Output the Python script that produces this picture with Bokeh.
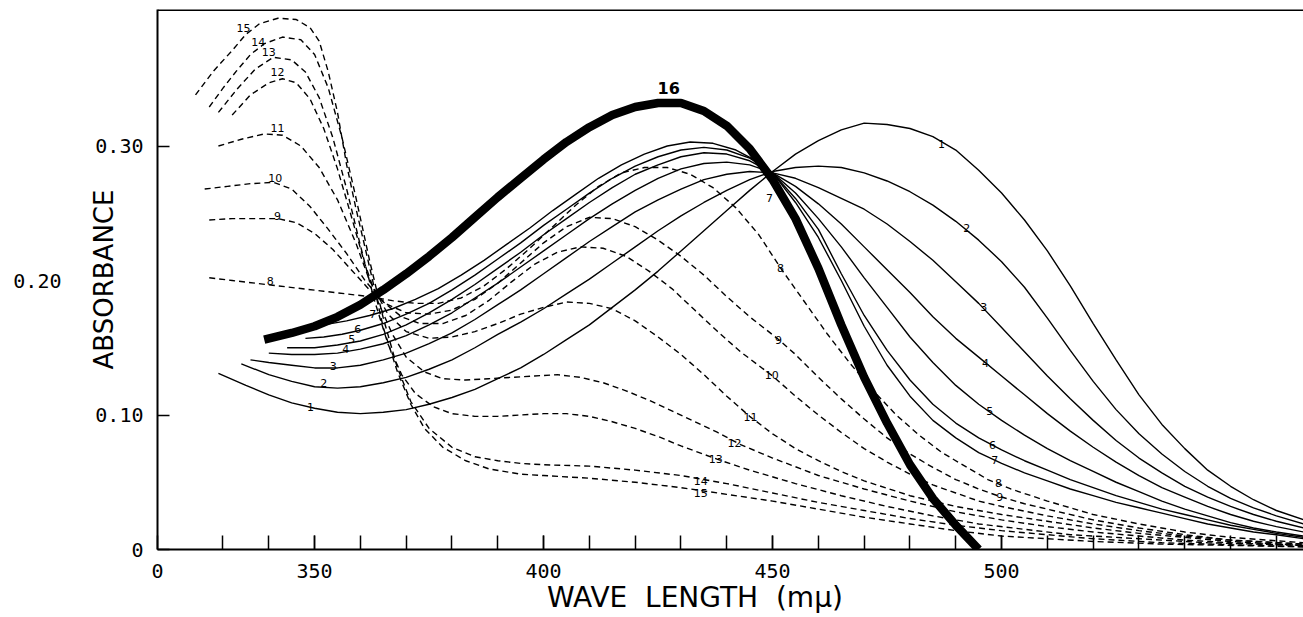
import numpy as np
from bokeh.plotting import figure
from bokeh.models import Range1d, FixedTicker, Span, ColumnDataSource, LinearAxis
from bokeh.embed import file_html
from bokeh.resources import INLINE
from bokeh.core.properties import value

# ---------------- data: (wavelength m-mu, absorbance) ----------------
curve_1 = [(329,.131),(335,.122),(340,.115),(345,.109),(350,.105),(355,.102),(360,.101),(365,.102),(370,.104),(375,.108),(380,.113),(385,.119),(390,.127),(395,.135),(400,.145),(405,.156),(410,.167),(415,.180),(420,.193),(425,.207),(430,.222),(435,.237),(440,.252),(445,.267),(450,.281),(455,.294),(460,.304),(465,.312),(470,.317),(475,.316),(480,.313),(485,.307),(490,.297),(495,.282),(500,.265),(505,.245),(510,.222),(515,.196),(520,.168),(525,.141),(530,.115),(535,.093),(540,.075),(545,.059),(550,.047),(555,.037),(560,.029),(566,.022)]
curve_2 = [(334,.138),(340,.130),(345,.125),(350,.121),(355,.120),(360,.121),(365,.124),(370,.128),(375,.134),(380,.141),(385,.150),(390,.160),(395,.169),(400,.179),(405,.190),(410,.201),(415,.213),(420,.225),(425,.237),(430,.248),(435,.258),(440,.267),(445,.275),(450,.281),(455,.284),(460,.285),(465,.284),(470,.280),(475,.274),(480,.266),(485,.256),(490,.244),(495,.230),(500,.214),(505,.195),(510,.172),(515,.148),(520,.125),(525,.104),(530,.086),(535,.071),(540,.058),(545,.047),(550,.038),(555,.031),(560,.025),(566,.019)]
curve_3 = [(336,.141),(340,.139),(345,.137),(350,.135),(355,.135),(360,.137),(365,.141),(370,.146),(375,.153),(380,.161),(385,.171),(390,.182),(395,.193),(400,.205),(405,.217),(410,.229),(415,.240),(420,.251),(425,.260),(430,.268),(435,.275),(440,.279),(445,.281),(450,.280),(455,.276),(460,.269),(465,.261),(470,.253),(475,.242),(480,.229),(485,.215),(490,.199),(495,.183),(500,.165),(505,.147),(510,.129),(515,.112),(520,.096),(525,.081),(530,.068),(535,.057),(540,.047),(545,.039),(550,.032),(555,.026),(560,.021),(566,.016)]
curve_4 = [(340,.146),(345,.145),(350,.145),(355,.146),(360,.149),(365,.153),(370,.159),(375,.167),(380,.176),(385,.187),(390,.198),(395,.210),(400,.222),(405,.234),(410,.246),(415,.257),(420,.267),(425,.276),(430,.283),(435,.287),(440,.288),(445,.286),(450,.280),(455,.270),(460,.257),(465,.242),(470,.225),(475,.208),(480,.191),(485,.173),(490,.157),(495,.143),(500,.129),(505,.115),(510,.101),(515,.088),(520,.076),(525,.065),(530,.055),(535,.046),(540,.039),(545,.032),(550,.026),(555,.021),(560,.017),(566,.013)]
curve_5 = [(344,.150),(350,.150),(355,.152),(360,.155),(365,.160),(370,.167),(375,.176),(380,.186),(385,.197),(390,.209),(395,.221),(400,.234),(405,.246),(410,.258),(415,.269),(420,.279),(425,.286),(430,.292),(435,.295),(440,.294),(445,.289),(450,.280),(455,.265),(460,.246),(465,.225),(470,.202),(475,.180),(480,.158),(485,.139),(490,.122),(495,.108),(500,.096),(505,.085),(510,.075),(515,.066),(520,.058),(525,.050),(530,.043),(535,.036),(540,.030),(545,.025),(550,.020),(555,.016),(560,.013),(566,.010)]
curve_6 = [(348,.157),(352,.158),(356,.160),(360,.163),(365,.168),(370,.175),(375,.183),(380,.193),(385,.204),(390,.216),(395,.228),(400,.241),(405,.253),(410,.265),(415,.276),(420,.285),(425,.292),(430,.297),(435,.299),(440,.297),(445,.291),(450,.280),(455,.261),(460,.238),(465,.205),(470,.174),(475,.148),(480,.126),(485,.108),(490,.094),(495,.083),(500,.074),(505,.066),(510,.059),(515,.052),(520,.046),(525,.040),(530,.035),(535,.030),(540,.026),(545,.022),(550,.018),(555,.015),(560,.012),(566,.009)]
curve_7 = [(352,.167),(357,.170),(362,.174),(367,.179),(372,.186),(377,.194),(382,.204),(387,.215),(392,.227),(397,.239),(402,.252),(407,.264),(412,.276),(417,.286),(422,.294),(427,.300),(432,.303),(437,.302),(442,.297),(447,.288),(450,.280),(455,.258),(460,.232),(465,.200),(470,.166),(475,.137),(480,.114),(485,.096),(490,.083),(495,.072),(500,.064),(505,.057),(510,.051),(515,.045),(520,.040),(525,.035),(530,.031),(535,.027),(540,.023),(545,.019),(550,.016),(555,.013),(560,.011),(566,.008)]
curve_8 = [(327,.202),(332,.200),(337,.198),(342,.196),(347,.194),(352,.192),(357,.190),(362,.188),(367,.185),(372,.183),(377,.183),(382,.187),(387,.196),(392,.209),(397,.224),(402,.240),(407,.256),(412,.270),(417,.280),(422,.284),(427,.284),(432,.279),(437,.269),(442,.254),(447,.234),(452,.208),(457,.184),(462,.160),(467,.138),(472,.118),(477,.100),(482,.085),(487,.072),(492,.062),(497,.052),(502,.045),(510,.036),(520,.026),(530,.019),(540,.013),(550,.009),(566,.005)]
curve_9 = [(327,.245),(332,.246),(337,.246),(342,.246),(346,.243),(350,.235),(354,.223),(358,.208),(362,.193),(366,.182),(370,.176),(375,.175),(380,.178),(385,.186),(390,.198),(395,.213),(400,.228),(405,.240),(410,.247),(415,.246),(420,.240),(425,.230),(430,.218),(435,.204),(440,.188),(445,.173),(451,.157),(455,.145),(460,.128),(465,.112),(470,.097),(475,.083),(480,.071),(485,.061),(490,.052),(495,.045),(500,.039),(505,.034),(510,.030),(520,.022),(530,.016),(540,.011),(550,.007),(566,.004)]
curve_10 = [(326,.268),(331,.270),(336,.272),(341,.273),(345,.268),(349,.255),(353,.238),(357,.220),(361,.200),(365,.184),(369,.173),(373,.168),(378,.168),(383,.174),(388,.185),(393,.199),(398,.212),(403,.221),(408,.225),(413,.224),(418,.218),(423,.207),(428,.194),(433,.178),(438,.162),(443,.147),(450,.129),(455,.114),(460,.100),(465,.087),(470,.075),(475,.065),(480,.056),(485,.048),(490,.042),(495,.036),(500,.032),(510,.025),(520,.019),(530,.014),(540,.010),(550,.007),(566,.004)]
curve_11 = [(329,.300),(334,.305),(339,.309),(343,.308),(347,.300),(351,.284),(355,.260),(359,.228),(362,.200),(366,.175),(370,.162),(375,.157),(380,.158),(385,.162),(390,.168),(395,.175),(400,.180),(405,.184),(410,.183),(415,.179),(420,.170),(425,.158),(430,.145),(435,.130),(440,.114),(445,.099),(450,.086),(455,.075),(460,.066),(465,.058),(470,.051),(480,.040),(490,.032),(500,.026),(510,.021),(520,.016),(530,.012),(540,.009),(550,.006),(566,.003)]
curve_12 = [(332,.323),(336,.338),(340,.347),(343,.350),(346,.347),(349,.335),(352,.313),(355,.283),(358,.248),(361,.212),(364,.183),(367,.160),(370,.143),(374,.132),(378,.127),(383,.126),(388,.127),(393,.128),(398,.129),(403,.130),(408,.128),(413,.124),(418,.118),(423,.111),(428,.103),(433,.095),(438,.087),(443,.078),(450,.068),(460,.055),(470,.045),(480,.036),(490,.028),(500,.022),(510,.017),(520,.013),(530,.010),(540,.007),(550,.005),(566,.003)]
curve_13 = [(329,.325),(333,.342),(337,.357),(341,.366),(345,.364),(348,.355),(351,.336),(354,.306),(357,.268),(360,.226),(363,.186),(366,.153),(369,.130),(372,.116),(376,.106),(380,.101),(385,.099),(390,.099),(395,.100),(400,.101),(405,.101),(410,.099),(415,.095),(420,.090),(425,.084),(430,.077),(438,.067),(445,.059),(455,.049),(465,.040),(475,.032),(485,.025),(495,.019),(505,.015),(515,.011),(530,.008),(545,.005),(566,.003)]
curve_14 = [(327,.329),(330,.343),(333,.356),(336,.368),(339,.376),(343,.381),(347,.379),(350,.368),(353,.343),(356,.306),(359,.262),(362,.215),(365,.172),(368,.136),(371,.110),(375,.090),(380,.076),(385,.069),(390,.066),(395,.064),(400,.063),(410,.062),(420,.059),(430,.055),(440,.049),(450,.042),(460,.035),(470,.029),(480,.023),(490,.018),(500,.014),(510,.011),(520,.008),(535,.005),(566,.002)]
curve_15 = [(324,.338),(328,.356),(332,.371),(335,.383),(338,.391),(342,.395),(346,.394),(349,.388),(351,.378),(353,.355),(355,.325),(357,.286),(359,.254),(362,.210),(365,.165),(368,.133),(371,.108),(374,.090),(378,.076),(383,.066),(388,.060),(395,.056),(400,.055),(410,.053),(420,.050),(430,.046),(440,.041),(450,.036),(460,.030),(470,.024),(480,.019),(490,.014),(500,.010),(510,.008),(520,.006),(535,.004),(566,.002)]
curve_16 = [(339,.156),(345,.161),(350,.166),(355,.173),(360,.182),(365,.193),(370,.205),(375,.218),(380,.232),(385,.247),(390,.262),(395,.276),(400,.290),(405,.303),(410,.314),(415,.323),(420,.329),(425,.332),(430,.332),(435,.326),(440,.315),(445,.298),(450,.275),(455,.246),(460,.209),(465,.167),(470,.128),(475,.094),(480,.063),(485,.038),(490,.018),(495,.000)]

solid_curves = {"1": curve_1, "2": curve_2, "3": curve_3, "4": curve_4, "5": curve_5, "6": curve_6, "7": curve_7}
dashed_curves = {"8": curve_8, "9": curve_9, "10": curve_10, "11": curve_11, "12": curve_12,
                 "13": curve_13, "14": curve_14, "15": curve_15}
thick_curves = {"16": curve_16}
all_curves = {**solid_curves, **dashed_curves, **thick_curves}

x_tick_values = [350, 400, 450, 500]
x_tick_labels = ["350", "400", "450", "500"]
x_origin_label = "0"
x_minor_ticks = list(range(330, 570, 10))
y_tick_values = [0, 0.10, 0.30]
y_tick_values_outer = [0.20]
y_tick_labels = {0: "0", 0.1: "0.10", 0.2: "0.20", 0.3: "0.30"}
x_title = "WAVE\u00a0\u00a0LENGTH\u00a0\u00a0(m\u03bc)" + "\u00a0" * 8
y_title = "ABSORBANCE"

# curve labels: (text, curve, wavelength where written, shift in px upward)
curve_labels = [
    ("1", "1", 349.1, 0), ("2", "2", 352.0, 4), ("3", "3", 354.1, 2), ("4", "4", 356.8, 3),
    ("5", "5", 358.1, 4), ("6", "6", 359.4, 2), ("7", "7", 362.7, 1),
    ("8", "8", 340.3, 4), ("9", "9", 341.9, 3), ("10", "10", 341.4, 5), ("11", "11", 341.9, 7),
    ("12", "12", 341.9, 8), ("13", "13", 340.0, 8), ("14", "14", 337.7, 6), ("15", "15", 334.5, 9),
    ("1", "1", 486.9, -2), ("2", "2", 492.4, 2), ("3", "3", 496.1, 2), ("4", "4", 496.5, 0),
    ("5", "5", 497.4, 1), ("6", "6", 498.0, 0), ("7", "7", 498.5, 0), ("8", "8", 499.3, 1), ("9", "9", 499.6, -1),
    ("7", "7", 449.3, -28), ("8", "8", 451.7, 0), ("9", "9", 451.3, 0), ("10", "10", 449.8, 0),
    ("11", "11", 445.2, 0), ("12", "12", 441.7, -2), ("13", "13", 437.6, 0), ("14", "14", 434.3, -2),
    ("15", "15", 434.3, -2), ("16", "16", 427.3, 15),
]

# ---------------- layout ----------------
W, H = 1303, 617
LEFT, BOTTOM, TOP, RIGHT = 157, 68, 9, 0
PXX = 4.58      # px per m-mu
PXY = 1345.0    # px per absorbance unit
x0 = 315.7
x1 = x0 + (W - LEFT - RIGHT) / PXX
y0 = 0.0
y1 = (H - BOTTOM - TOP) / PXY

TICK_FONT = "DejaVu Sans Mono"
TITLE_FONT = "DejaVu Sans"

p = figure(width=W, height=H, output_backend="svg", toolbar_location=None,
           x_range=Range1d(x0, x1), y_range=Range1d(y0, y1),
           min_border_left=LEFT, min_border_right=RIGHT, min_border_top=TOP,
           min_border_bottom=BOTTOM, background_fill_color="white",
           border_fill_color="white", outline_line_color=None)
p.grid.visible = False

xa = p.xaxis[0]
xa.ticker = FixedTicker(ticks=[x0] + x_tick_values, minor_ticks=x_minor_ticks)
overrides = {x0: x_origin_label}
overrides.update(dict(zip(x_tick_values, x_tick_labels)))
xa.major_label_overrides = overrides
ya = p.yaxis[0]
ya.ticker = FixedTicker(ticks=y_tick_values)
ya.major_label_overrides = {v: y_tick_labels[v] for v in y_tick_values}

for ax in (xa, ya):
    ax.axis_line_width = 2
    ax.axis_line_color = "black"
    ax.major_tick_out = 0
    ax.minor_tick_out = 0
    ax.major_tick_line_width = 1.5
    ax.minor_tick_line_width = 1.5
    ax.major_label_text_font = TICK_FONT
    ax.major_label_text_font_size = "20px"
    ax.major_label_text_color = "black"
    ax.axis_label_text_font = TITLE_FONT
    ax.axis_label_text_font_style = "normal"
    ax.axis_label_text_color = "black"
xa.major_tick_in = 14
xa.minor_tick_in = 14
xa.minor_tick_line_color = "black"
xa.major_label_standoff = 14
xa.axis_label = x_title
xa.axis_label_text_font_size = "28px"
xa.axis_label_standoff = 0

ya.major_tick_in = 12
ya.minor_tick_line_color = None
ya.major_label_standoff = 14
ya.axis_label = y_title
ya.axis_label_text_font_size = "26px"
ya.axis_label_standoff = -27

ya2 = LinearAxis(ticker=FixedTicker(ticks=y_tick_values_outer),
                 major_label_overrides={v: y_tick_labels[v] for v in y_tick_values_outer},
                 axis_line_color=None, major_tick_line_color=None, minor_tick_line_color=None,
                 major_label_standoff=19, major_label_text_font=TICK_FONT,
                 major_label_text_font_size="20px", major_label_text_color="black")
p.add_layout(ya2, "left")

p.add_layout(Span(location=y1, dimension="width", line_color="black", line_width=3))

for name, pts in solid_curves.items():
    wl, ab = zip(*pts)
    p.line(list(wl), list(ab), line_color="black", line_width=1.4)
for name, pts in dashed_curves.items():
    wl, ab = zip(*pts)
    p.line(list(wl), list(ab), line_color="black", line_width=1.4, line_dash="6 4")
for name, pts in thick_curves.items():
    wl, ab = zip(*pts)
    p.line(list(wl), list(ab), line_color="black", line_width=8.5, line_join="round")

lx, ly, lt, ls, lw = [], [], [], [], []
for text, cname, lam, dy in curve_labels:
    wl, ab = zip(*all_curves[cname])
    lx.append(lam)
    ly.append(float(np.interp(lam, wl, ab)) + dy / PXY)
    lt.append(text)
    ls.append("16px" if cname == "16" else "11px")
    lw.append("bold" if cname == "16" else "normal")
p.text(x="x", y="y", text="t", text_font_size="s", text_font_style="w",
       source=ColumnDataSource(dict(x=lx, y=ly, t=lt, s=ls, w=lw)),
       text_align="center", text_baseline="middle", text_font=value("DejaVu Sans"),
       text_color="black")

open("out.html", "w").write(file_html(p, INLINE))
